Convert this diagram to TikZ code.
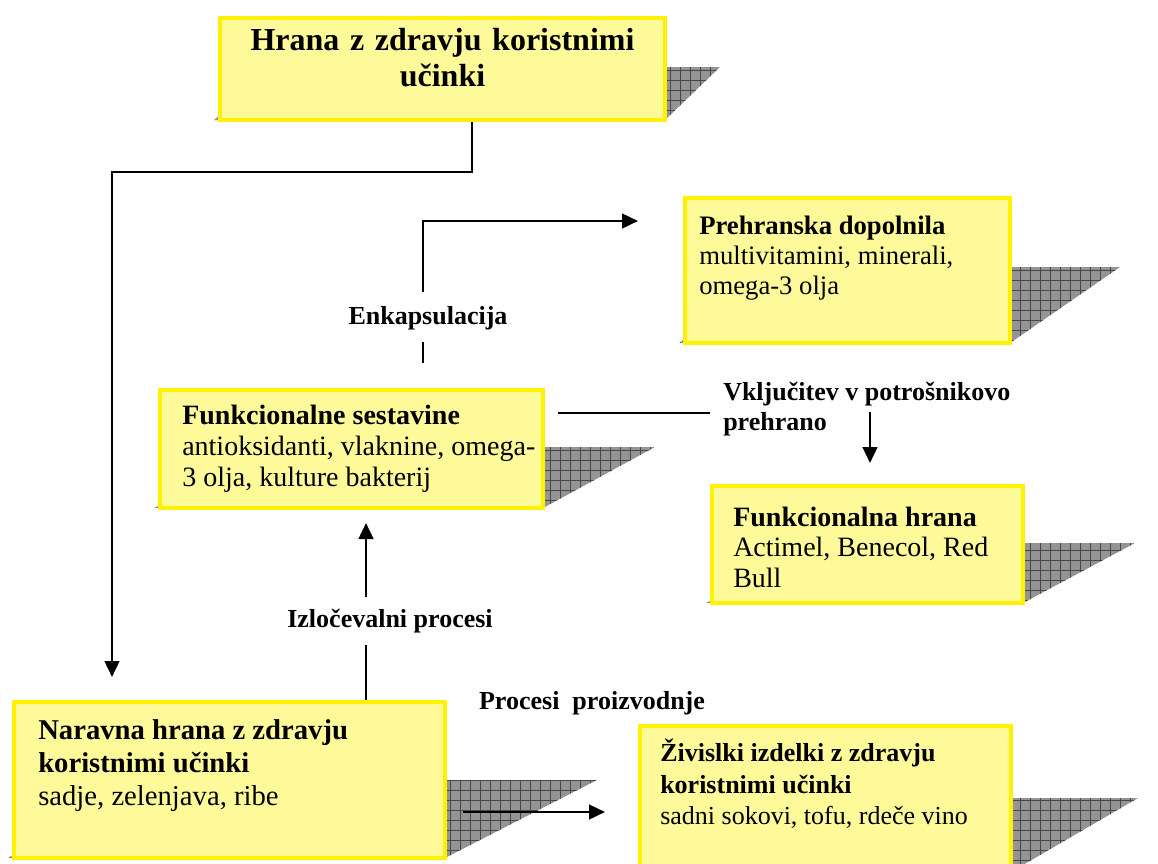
\documentclass[tikz,border=0pt]{standalone}
\usepackage{fontspec}
\setmainfont{Liberation Serif}
\usetikzlibrary{arrows.meta,fit}

\tikzset{
  box/.style={draw=yellow, fill=yellow!40, line width=3.5pt, inner sep=0pt},
  txt/.style={anchor=west, align=left, inner sep=0pt},
  lab/.style={font=\fontsize{19.5}{23}\selectfont\bfseries, inner sep=0pt},
  conn/.style={line width=1.9pt},
  arr/.style={-{Triangle[length=12pt,width=11pt]}},
  shadowfill/.style={fill=black!42},
  shadowgrid/.style={draw=black!72, line width=0.45pt, step=7.5pt}
}

% slanted grid shadow: left x, right x, bottom y, top y, tip x
\newcommand{\dropshadow}[5]{%
  \begin{scope}
    \clip (#1-6,#3) -- (#2,#3) -- (#5,#4) -- (#1+#5-#2,#4) -- cycle;
    \fill[shadowfill] (#1-6,#4) rectangle (#5,#3);
    \draw[shadowgrid] (#1-6,#4) grid (#5,#3);
  \end{scope}}

\begin{document}
\begin{tikzpicture}[x=0.75pt,y=-0.75pt]
    \clip (0,0) rectangle (1158,864);

    % Shadows
    \dropshadow{220}{665}{120}{67}{720}
    \dropshadow{685}{1010}{343}{267}{1120}
    \dropshadow{160}{543}{508}{447}{655}
    \dropshadow{712}{1023}{603}{543}{1135}
    \dropshadow{14}{445}{858}{780}{597}
    \dropshadow{640}{1011}{872}{798}{1138}

    % Boxes
    \node[box, fit={(220,18) (665,120)}, align=center,
          font=\fontsize{24}{27}\selectfont\bfseries] (hrana) {Hrana z zdravju koristnimi\\učinki};
    \node[box, fit={(685,198) (1010,343)}] (prehr) {};
    \node[box, fit={(160,390) (543,508)}] (sest) {};
    \node[box, fit={(712,486) (1023,603)}] (funk) {};
    \node[box, fit={(14,702) (445,858)}] (narav) {};
    \node[box, fit={(640,726) (1011,872)}] (zivil) {};

    % Box texts
    \node[txt, font=\fontsize{20}{22.5}\selectfont] (prehr-t) at (699,258)
        {\textbf{Prehranska dopolnila}\\multivitamini, minerali,\\omega-3 olja};
    \node[txt, font=\fontsize{21}{23.25}\selectfont] (sest-t) at (182,449)
        {\textbf{Funkcionalne sestavine}\\antioksidanti, vlaknine, omega-\\3 olja, kulture bakterij};
    \node[txt, font=\fontsize{21}{22.9}\selectfont] (funk-t) at (733,547)
        {\textbf{Funkcionalna hrana}\\Actimel, Benecol, Red\\Bull};
    \node[txt, font=\fontsize{21.5}{24.75}\selectfont] (narav-t) at (38,766)
        {\textbf{Naravna hrana z zdravju}\\\textbf{koristnimi učinki}\\sadje, zelenjava, ribe};
    \node[txt, font=\fontsize{19.5}{23.6}\selectfont] (zivil-t) at (660,784)
        {\textbf{Živislki izdelki z zdravju}\\\textbf{koristnimi učinki}\\sadni sokovi, tofu, rdeče vino};

    % Labels
    \node[lab] (enkap) at (428,318) {Enkapsulacija};
    \node[lab] (izloc) at (390,621) {Izločevalni procesi};
    \node[lab, anchor=west, align=left] (vklj) at (723,409) {Vključitev v potrošnikovo\\prehrano};
    \node[lab] (proc) at (592,703) {Procesi\ \ proizvodnje};

    % Connectors
    \coordinate (k1) at (472,172);
    \coordinate (k2) at (112,677);
    \draw[conn, arr] (hrana.south -| k1) -- (k1) -| (k2);

    \coordinate (i1) at (366,645);
    \coordinate (i2) at (366,597);
    \coordinate (i3) at (366,523);
    \draw[conn] (narav.north -| i1) -- (i1);
    \draw[conn, arr] (i2) -- (i3);

    \coordinate (e1) at (423,363);
    \coordinate (e2) at (423,342);
    \coordinate (e3) at (423,292);
    \coordinate (e4) at (423,221);
    \coordinate (e5) at (638,221);
    \draw[conn] (e1) -- (e2);
    \draw[conn, arr] (e3) -- (e4) -- (e5);

    \coordinate (v1) at (558,413);
    \coordinate (v2) at (710,413);
    \coordinate (v3) at (870,412);
    \coordinate (v4) at (870,463);
    \draw[conn] (v1) -- (v2);
    \draw[conn, arr] (v3) -- (v4);

    \coordinate (p1) at (463,812);
    \coordinate (p2) at (605,812);
    \draw[conn, arr] (p1) -- (p2);

\end{tikzpicture}
\end{document}
